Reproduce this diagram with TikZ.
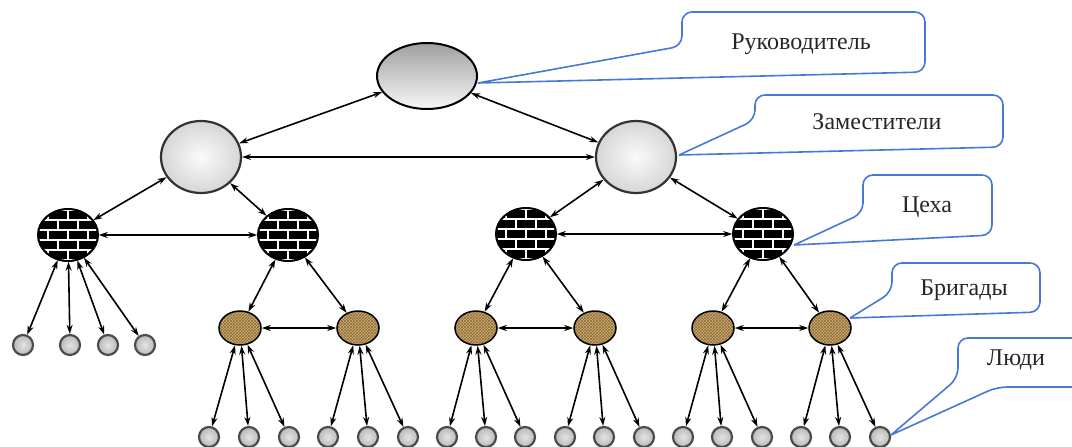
\documentclass[tikz,border=0pt]{standalone}
\usepackage{fontspec}
\setmainfont{Liberation Serif}
\usetikzlibrary{arrows.meta,shapes.geometric,patterns}
\definecolor{calloutblue}{RGB}{70,120,215}
\definecolor{brigadetan}{RGB}{210,178,120}
\definecolor{brigadebrown}{RGB}{140,105,55}
\begin{document}
\begin{tikzpicture}[x=1pt,y=-1pt,
 conn/.style={line width=1.6pt,{Stealth[length=9pt,width=6pt]}-{Stealth[length=9pt,width=6pt]}},
 chief/.style={ellipse,draw=black,line width=2pt,minimum width=100pt,minimum height=66pt,top color=gray!75,bottom color=gray!6},
 deputy/.style={ellipse,draw=black!80,line width=2.2pt,minimum width=80pt,minimum height=72pt,inner color=gray!4,outer color=gray!32},
 shop/.style={ellipse,draw=black,line width=1.5pt,minimum width=60pt,minimum height=52pt,fill=black},
 brickline/.style={white,line width=1.4pt},
 brigade/.style={ellipse,draw=black,line width=1.5pt,minimum width=42pt,minimum height=34pt,preaction={fill=brigadetan},pattern=crosshatch,pattern color=brigadebrown},
 person/.style={circle,draw=black!70,line width=2.2pt,minimum size=20pt,inner sep=0pt,inner color=gray!22,outer color=gray!55},
 callout/.style={draw=calloutblue,line width=1.6pt,rounded corners=10pt},
 lbl/.style={font=\fontsize{24}{28}\selectfont,text=black!85}
]
\useasboundingbox (0,0) rectangle (1072,447);
\clip (0,0) rectangle (1072,447);

% top and deputies
\node[chief] (top) at (427,76) {};
\node[deputy] (d1) at (201,157) {};
\node[deputy] (d2) at (636,157) {};

% shops (brick pattern)
\foreach \n/\cx/\cy in {b1/68/235,b2/288/235,b3/526/234,b4/763/234}{
  \node[shop] (\n) at (\cx,\cy) {};
  \begin{scope}
    \clip (\cx,\cy) ellipse (29 and 25);
    \foreach \dy in {-35,-25,-15,-5,5,15,25}{
      \draw[brickline] (\cx-40,\cy+\dy) -- (\cx+40,\cy+\dy);
    }
    \foreach \dy in {-20,0,20}{
      \foreach \dx in {-40,-20,0,20,40}{
        \draw[brickline] (\cx+\dx,\cy+\dy-5) -- (\cx+\dx,\cy+\dy+5);
      }
    }
    \foreach \dy in {-30,-10,10,30}{
      \foreach \dx in {-30,-10,10,30}{
        \draw[brickline] (\cx+\dx,\cy+\dy-5) -- (\cx+\dx,\cy+\dy+5);
      }
    }
  \end{scope}
  \draw[black,line width=1.8pt] (\cx,\cy) ellipse (30 and 26);
}

% brigades
\foreach \n/\cx in {g1/240,g2/358,g3/476,g4/595,g5/713,g6/830}{
  \node[brigade] (\n) at (\cx,328) {};
}

% people left of first shop
\foreach \n/\cx in {pa/23,pb/70,pc/108,pd/145}{
  \node[person] (\n) at (\cx,345) {};
}
% people bottom row
\foreach \n/\cx in {p1/209,p2/249,p3/289,p4/328,p5/368,p6/408,p7/447,p8/486,p9/525,p10/565,p11/604,p12/644,p13/683,p14/722,p15/762,p16/801,p17/840,p18/880}{
  \node[person] (\n) at (\cx,437) {};
}

% connectors
\draw[conn] (top) -- (d1);
\draw[conn] (top) -- (d2);
\draw[conn] (d1) -- (d2);
\draw[conn] (d1) -- (b1);
\draw[conn] (d1) -- (b2);
\draw[conn] (d2) -- (b3);
\draw[conn] (d2) -- (b4);
\draw[conn] (b1.east) -- (b2.west);
\draw[conn] (b3.east) -- (b4.west);
\foreach \p in {pa,pb,pc,pd}{ \draw[conn] (b1) -- (\p); }
\draw[conn] (b2) -- (g1);
\draw[conn] (b2) -- (g2);
\draw[conn] (b3) -- (g3);
\draw[conn] (b3) -- (g4);
\draw[conn] (b4) -- (g5);
\draw[conn] (b4) -- (g6);
\draw[conn] (g1) -- (g2);
\draw[conn] (g3) -- (g4);
\draw[conn] (g5) -- (g6);
\foreach \g/\a/\b/\c in {g1/p1/p2/p3,g2/p4/p5/p6,g3/p7/p8/p9,g4/p10/p11/p12,g5/p13/p14/p15,g6/p16/p17/p18}{
  \draw[conn] (\g) -- (\a);
  \draw[conn] (\g) -- (\b);
  \draw[conn] (\g) -- (\c);
}

% callouts
\coordinate (t1) at (478,83);
\coordinate (t2) at (679,155);
\coordinate (t3) at (794,245);
\coordinate (t4) at (850,318);
\coordinate (t5) at (891,435);
\draw[callout] (t1) -- (682,46) -- (682,12) -- (925,12) -- (925,72) -- (t1);
\draw[callout] (t2) -- (755,120) -- (755,95) -- (1003,95) -- (1003,147) -- (t2);
\draw[callout] (t3) -- (863,213) -- (863,175) -- (992,175) -- (992,235) -- (t3);
\draw[callout] (t4) -- (892,292) -- (892,263) -- (1040,263) -- (1040,312) -- (t4);
\draw[callout] (t5) -- (958,378) -- (958,338) -- (1090,338) -- (1090,387) -- (997,387) -- (t5);
\node[lbl] (l1) at (801,44) {Руководитель};
\node[lbl] (l2) at (877,122) {Заместители};
\node[lbl] (l3) at (927,207) {Цеха};
\node[lbl] (l4) at (964,290) {Бригады};
\node[lbl] (l5) at (1016,360) {Люди};
\end{tikzpicture}
\end{document}
